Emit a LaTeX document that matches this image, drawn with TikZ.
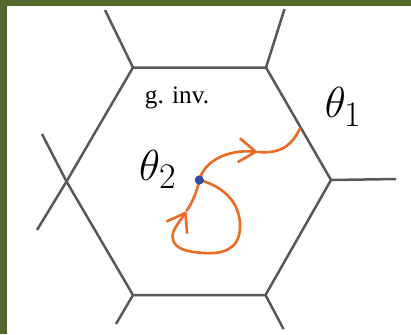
\RequirePackage{fix-cm}
\documentclass[tikz,border=0pt]{standalone}
\usepackage{fontspec}
\newfontfamily\labelfont{Liberation Serif}
\usetikzlibrary{arrows.meta}
\definecolor{framegreen}{RGB}{83,106,46}
\definecolor{hexgray}{RGB}{88,88,88}
\definecolor{flowor}{RGB}{236,107,35}
\definecolor{dotblue}{RGB}{52,72,160}
\begin{document}
\begin{tikzpicture}[x=0.5pt,y=-0.5pt,
  edge/.style={draw=hexgray,line width=1.25pt},
  flow/.style={draw=flowor,line width=1.3pt},
  barb/.style={-{Straight Barb[length=8.5pt,width=12pt]}},
  bigmath/.style={anchor=base west,inner sep=0pt,font=\fontsize{21.7}{26}\selectfont},
  smalltext/.style={anchor=base west,inner sep=0pt,font=\labelfont\fontsize{12.6}{15}\selectfont}]
\useasboundingbox (0,0) rectangle (411,334);
\fill[white] (0,0) rectangle (411,334);
\fill[framegreen] (0,0) rectangle (7,334);
\fill[framegreen] (0,0) rectangle (411,6);
% hexagon vertices
\coordinate (A) at (133,67.5);
\coordinate (B) at (266,67.5);
\coordinate (C) at (331,180);
\coordinate (D) at (265.5,295);
\coordinate (E) at (133,295);
\coordinate (F) at (66.5,181.5);
% outer leg ends
\coordinate (a) at (105,10);
\coordinate (b) at (284.5,9);
\coordinate (c) at (396,179);
\coordinate (d) at (283.5,329);
\coordinate (e) at (116,324);
\coordinate (f1) at (42,134);
\coordinate (f2) at (37,230);
\draw[edge,line join=round] (A) -- (B) -- (C) -- (D) -- (E) -- (F) -- cycle;
\draw[edge] (A) -- (a);
\draw[edge] (B) -- (b);
\draw[edge] (C) -- (c);
\draw[edge] (D) -- (d);
\draw[edge] (E) -- (e);
\draw[edge] (F) -- (f1);
\draw[edge] (F) -- (f2);
% labels
\node[smalltext] (ginv) at (144.5,103.3) {g. inv.};
\node[bigmath] (t1) at (324.5,117.3) {$\theta_{\mbox{\fontsize{18}{20}\selectfont 1}}$};
\node[bigmath] (t2) at (138.8,180) {$\theta_{\mbox{\fontsize{18}{20}\selectfont 2}}$};
% flows
\coordinate (dot) at (199.3,180);
\coordinate (tipA) at (258,152);
\coordinate (endA) at (300,128.5);
\coordinate (tipB) at (186.5,211);
\draw[flow,barb] (dot) .. controls (204,162) and (226,149) .. (tipA);
\draw[flow,line cap=round] (tipA) .. controls (277,153.5) and (290,149) .. (endA);
\draw[flow,barb] (dot) .. controls (226,187) and (241,205) .. (240,228)
  .. controls (239,250) and (222,254) .. (205,253)
  .. controls (185,252) and (170,248) .. (173,233)
  .. controls (175,226) and (183,217) .. (tipB);
\draw[flow] (tipB) .. controls (192,203) and (197,192) .. (dot);
\fill[dotblue] (dot) circle (4.6);
\end{tikzpicture}
\end{document}
